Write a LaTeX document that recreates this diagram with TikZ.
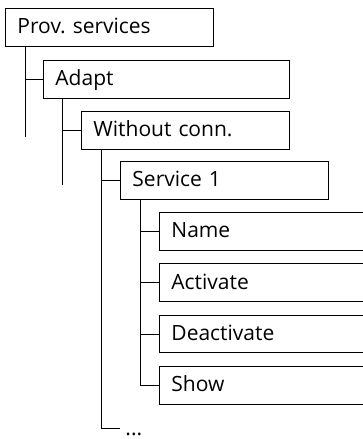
\documentclass[tikz,border=0pt]{standalone}
\usepackage{fontspec}
\setmainfont{Open Sans}
\usepackage{tikz}
\usetikzlibrary{positioning}

\tikzset{
  menubox/.style={draw, anchor=north west, minimum height=37.5pt, inner xsep=12pt,
    text height=16pt, text depth=3pt, align=left},
  treeline/.style={line width=0.9pt}
}

\begin{document}
\begin{tikzpicture}[x=1pt, y=1pt, line width=0.9pt, font=\fontsize{21}{25}\selectfont]
\clip (0,0) rectangle (363,-439);
\useasboundingbox (0,0) rectangle (363,-439);

% menu levels
\node[menubox, text width=184pt] (prov) at (5,-8) {Prov.\ services};
\node[menubox, text width=222pt] (adapt) at (43,-60) {Adapt};
\node[menubox, text width=184pt] (without) at (81,-111) {Without conn.};
\node[menubox, text width=184pt] (service) at (120,-161) {Service 1};

% entries of service 1
\node[menubox, text width=220pt] (name) at (159,-212) {Name};
\node[menubox, text width=220pt, below=13pt of name.south west, anchor=north west] (activate) {Activate};
\node[menubox, text width=220pt, below=13pt of activate.south west, anchor=north west] (deactivate) {Deactivate};
\node[menubox, text width=220pt, below=13pt of deactivate.south west, anchor=north west] (show) {Show};

\node[anchor=base west, inner sep=0pt] (more) at (125,-435) {...};

% tree lines
\coordinate (provtop) at ([xshift=20pt]prov.south west);
\draw[treeline] (provtop) -- (provtop |- 0,-137);
\draw[treeline] (provtop |- adapt.west) -- (adapt.west);

\coordinate (adapttop) at ([xshift=19pt]adapt.south west);
\draw[treeline] (adapttop) -- (adapttop |- 0,-185);
\draw[treeline] (adapttop |- without.west) -- (without.west);

\coordinate (withouttop) at ([xshift=20pt]without.south west);
\coordinate (moreline) at (120,-428);
\draw[treeline] (withouttop) |- (moreline);
\draw[treeline] (withouttop |- service.west) -- (service.west);

\coordinate (servicetop) at ([xshift=20pt]service.south west);
\draw[treeline] (servicetop) |- (show.west);
\foreach \n in {name, activate, deactivate}
  \draw[treeline] (servicetop |- \n.west) -- (\n.west);
\end{tikzpicture}
\end{document}
